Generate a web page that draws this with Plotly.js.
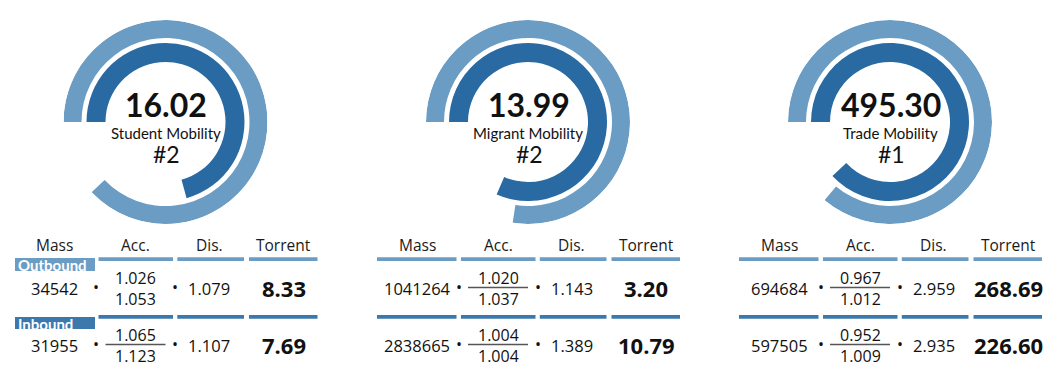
<!DOCTYPE html>
<html>
<head>
<meta charset="utf-8">
<script src="https://cdn.plot.ly/plotly-3.0.1.min.js"></script>
<style>html,body{margin:0;padding:0;background:#fff;}#chart{width:1048px;height:376px;}</style>
</head>
<body>
<div id="chart"></div>
<script>
// ---- data ----
const panels = ['Student Mobility', 'Migrant Mobility', 'Trade Mobility'];
const scores = ['16.02', '13.99', '495.30'];
const ranks = ['#2', '#2', '#1'];
const outerRingPct = [87.9, 77.4, 86.1];   // share of full circle
const innerRingPct = [70.7, 81.5, 88.0];
const headers = ['Mass', 'Acc.', 'Dis.', 'Torrent'];
const rowLabels = ['Outbound', 'Inbound'];
const massOut = ['34542', '1041264', '694684'];
const accNumOut = ['1.026', '1.020', '0.967'];
const accDenOut = ['1.053', '1.037', '1.012'];
const disOut = ['1.079', '1.143', '2.959'];
const torrentOut = ['8.33', '3.20', '268.69'];
const massIn = ['31955', '2838665', '597505'];
const accNumIn = ['1.065', '1.004', '0.952'];
const accDenIn = ['1.123', '1.004', '1.009'];
const disIn = ['1.107', '1.389', '2.935'];
const torrentIn = ['7.69', '10.79', '226.60'];

// ---- layout constants ----
const W = 1048, H = 376;
const centersX = [165.5, 528, 890];
const cy = 122;
const R = 102;
const LIGHT = '#6b9dc4', DARK = '#2a6aa3', MID = '#3d78ad';
const FONT = '"Open Sans", Lato, sans-serif';
const LBLFONT = 'Lato, "Open Sans", sans-serif';
const px = x => x / W;
const py = y => 1 - y / H;

const traces = [];
const layout = {
  width: W, height: H,
  margin: {l: 0, r: 0, t: 0, b: 0},
  paper_bgcolor: '#fff', plot_bgcolor: '#fff',
  showlegend: false,
  shapes: [], annotations: []
};

function ann(x, y, text, size, opts) {
  layout.annotations.push(Object.assign({
    xref: 'paper', yref: 'paper', x: px(x), y: py(y), text: text,
    showarrow: false, xanchor: 'center', yanchor: 'middle',
    borderpad: 0,
    font: {family: FONT, size: size, color: '#111'}
  }, opts || {}));
}
function rect(x0, y0, x1, y1, color) {
  layout.shapes.push({type: 'rect', xref: 'paper', yref: 'paper',
    x0: px(x0), x1: px(x1), y0: py(y0), y1: py(y1),
    fillcolor: color, line: {width: 0}, layer: 'above'});
}
function hline(x0, x1, y, color, w) {
  layout.shapes.push({type: 'line', xref: 'paper', yref: 'paper',
    x0: px(x0), x1: px(x1), y0: py(y), y1: py(y),
    line: {color: color, width: w}});
}

panels.forEach((name, i) => {
  const cx = centersX[i];
  const pid = i === 0 ? 'polar' : 'polar' + (i + 1);
  const so = outerRingPct[i] * 3.6, si = innerRingPct[i] * 3.6;
  traces.push({
    type: 'barpolar', subplot: pid,
    r: [18, 19], base: [84, 60],
    theta: [so / 2, si / 2], width: [so, si],
    marker: {color: [LIGHT, DARK], line: {width: 0}},
    hoverinfo: 'skip'
  });
  layout[pid] = {
    domain: {x: [px(cx - R), px(cx + R)], y: [py(cy + R), py(cy - R)]},
    bgcolor: 'rgba(0,0,0,0)',
    radialaxis: {visible: false, range: [0, R]},
    angularaxis: {visible: false, rotation: 180, direction: 'clockwise'}
  };
  // center text (Lato: tighter line box so the stacked labels do not collide)
  ann(cx + 0.5, 104.5, '<b>' + scores[i] + '</b>', 32, {font: {family: LBLFONT, size: 32, color: '#111'}});
  ann(cx, 132.5, name, 15, {font: {family: LBLFONT, size: 15, color: '#111'}});
  ann(cx + 1, 154, ranks[i], 23, {font: {family: LBLFONT, size: 23, color: '#111'}});

  // table
  const colX = [cx - 111, cx - 30, cx + 43.5, cx + 118];
  headers.forEach((h, k) => ann(colX[k], 245, h, 15.5, {font: {family: FONT, size: 15.5, color: '#1a1a1a'}}));
  const segs = [[-151, -71.5], [-67, 7.5], [11.8, 78.5], [83.5, 152]];
  segs.forEach((s, k) => {
    if (i === 0 && k === 0) return;
    rect(cx + s[0], 257.3, cx + s[1], 261, LIGHT);
    rect(cx + s[0], 315, cx + s[1], 318.7, MID);
  });

  const rows = [
    {y: 288, mass: massOut[i], num: accNumOut[i], den: accDenOut[i], dis: disOut[i], tor: torrentOut[i], showLine: i !== 0},
    {y: 345, mass: massIn[i], num: accNumIn[i], den: accDenIn[i], dis: disIn[i], tor: torrentIn[i], showLine: true}
  ];
  rows.forEach(rw => {
    ann(colX[0], rw.y, rw.mass, 16.5);
    ann(cx - 69.5, rw.y - 1, '•', 16);
    ann(colX[1], rw.y - 10.5, rw.num, 16, {height: 19});
    ann(colX[1], rw.y + 10.5, rw.den, 16, {height: 19});
    if (rw.showLine) hline(cx - 60, cx, rw.y - 0.5, '#555', 1.3);
    ann(cx + 9.5, rw.y - 1, '•', 16);
    ann(colX[2], rw.y, rw.dis, 16.5);
    ann(colX[3], rw.y, '<b>' + rw.tor + '</b>', 22);
  });
});

// row labels (first panel)
const lblBoxes = [[258, 271, LIGHT], [317, 329, MID]];
rowLabels.forEach((t, k) => {
  const b = lblBoxes[k];
  rect(centersX[0] - 150.5, b[0], centersX[0] - 70.5, b[1], b[2]);
  ann(centersX[0] - 149, (b[0] + b[1]) / 2 + 0.5, '<b>' + t + '</b>', 15,
    {xanchor: 'left', font: {family: LBLFONT, size: 15, color: '#fff'}});
});

Plotly.newPlot('chart', traces, layout, {staticPlot: true, displayModeBar: false});
</script>
</body>
</html>
